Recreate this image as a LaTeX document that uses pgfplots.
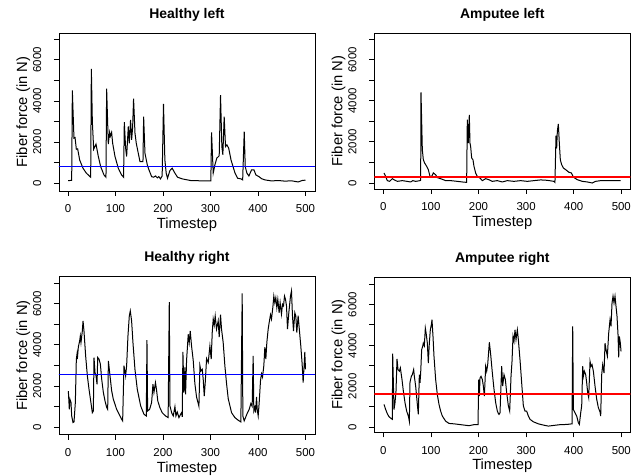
\documentclass[border=0pt]{standalone}
\usepackage{fontspec}
\setmainfont{Liberation Sans}
\usepackage{pgfplots}
\pgfplotsset{compat=1.18}
\definecolor{meanblue}{RGB}{0,0,255}
\pgfplotsset{
  every axis title/.style={at={(axis description cs:0.5,1)}, anchor=base, yshift=14.5bp, font=\bfseries\fontsize{14}{16}\selectfont, inner sep=0pt, outer sep=0pt},
  every axis x label/.style={at={(axis description cs:0.5,0)}, anchor=base, yshift=-37.5bp, font=\fontsize{14.8}{17}\selectfont, inner sep=0pt, outer sep=0pt},
  every axis y label/.style={at={(axis description cs:-0.125,0.5)}, rotate=90, anchor=base, font=\fontsize{14.8}{17}\selectfont, inner sep=0pt, outer sep=0pt},
  rplot/.style={
    scale only axis,
    width=256bp,
    xmin=-19, xmax=520,
    axis line style={line width=0.8bp, black},
    tick align=outside,
    xtick pos=bottom, ytick pos=left,
    major tick length=5bp,
    tick style={line width=0.8bp, black},
    xtick={0,100,200,300,400,500},
    xticklabels={0,100,200,300,400,500},
    ytick={0,1000,2000,3000,4000,5000,6000,7000},
    yticklabels={0,,2000,,4000,,6000,},
    ticklabel style={font=\fontsize{11.5}{12}\selectfont, inner sep=0pt, outer sep=0pt},
    xticklabel style={anchor=base, yshift=-17bp},
    yticklabel style={rotate=90, anchor=base, yshift=13bp},
    xlabel={Timestep},
    ylabel={Fiber force (in N)},
    clip=true,
  },
  dataline/.style={black, line width=1bp, no marks},
  blueline/.style={draw=meanblue, line width=1bp, no marks},
  redline/.style={draw=red, line width=2bp, no marks},
}
\begin{document}
\begin{tikzpicture}
\path[use as bounding box] (0,0) rectangle (644bp,476bp);

% Healthy left
\begin{axis}[rplot, at={(59bp,285bp)}, height=157.7bp, ymin=-380, ymax=7290, title={Healthy left}]
\addplot[dataline] coordinates {
(0,130) (7.7,131) (9.1,4510) (12.5,2190) (14.8,2220) (17.5,1650) (20.3,1670) (24.5,1130) (31.5,730) (38.5,490) (47.7,290)
(49.1,5560) (51.2,3000) (54,1650) (58.9,1900) (63.8,1300) (68.7,810) (75.7,400) (79.9,290)
(81.3,4600) (84.8,1900) (87.6,2470) (89,2280) (91.8,2470) (94,1940) (98.9,1300) (105.8,730) (112.9,400) (117,290)
(118.5,2970) (121.3,1700) (123.4,1300) (126.9,2760) (129,1940) (131.7,3080) (133.9,2110) (136,2700) (138,4110) (141,2430) (143.7,1940) (149.3,1300) (151.5,1050) (157.8,1050)
(159.2,3240) (162,1460) (166.9,890) (170.4,650) (176,320) (180,290) (184.3,350) (188,260) (191.2,320) (194.6,210) (198.2,350)
(201,3860) (203.9,1130) (206.7,490) (209.5,240) (214.4,610) (219.3,730) (225,490) (230.6,290) (240.4,210) (258,130) (280,115) (300.7,115)
(302.2,2465) (305.7,490) (309.2,890) (313.3,1220) (318.3,1330) (321.1,4280) (323.9,1780) (326,1380) (328.8,3240) (331.6,1780) (334.5,1870) (338.3,1700) (343.2,1130) (347.4,810) (351.6,490) (357.2,240) (364.2,210) (367.7,160)
(371,2510) (373.1,810) (376.6,490) (380.8,350) (386.5,650) (391.4,650) (395.6,400) (401.9,320) (407.5,220) (414.5,160) (428.5,110) (442.5,130) (456.6,100) (470.6,115) (484.6,60) (493,130) (500,150)
};
\addplot[blueline] coordinates {(-30,835) (530,835)};
\end{axis}

% Amputee left
\begin{axis}[rplot, at={(374.3bp,287bp)}, height=155.7bp, xmin=-18.9, xmax=518.9, ymin=-292, ymax=7285, title={Amputee left}]
\addplot[dataline] coordinates {
(1.4,487) (4.9,325) (8.4,115) (13.4,80) (18.9,210) (22.5,160) (29.5,80) (40,115) (50,80) (57.5,50) (62,115) (68,80) (77.3,115) (78.5,130)
(79.2,4410) (82,1620) (84.1,1130) (86.9,970) (91.1,810) (94.6,650) (98.1,320) (101.6,320) (105.1,490) (110,400) (113.5,260) (120.5,210) (131,115) (141.5,115) (155.5,80) (166,50) (175.1,30)
(176.5,3080) (178.6,1940) (180.7,3320) (182.1,1940) (183.5,1780) (185.6,1220) (188.4,1130) (190.5,810) (194,490) (197.5,320) (203.1,240) (208,115) (215,210) (222,160) (229,80) (239.5,115) (250,50) (260.5,115) (274.5,80) (288.5,115) (302.5,80) (316.5,115) (330.5,150) (344.5,130) (358.5,80) (360.6,30)
(362.8,2300) (364.2,1680) (365.6,2510) (367.7,2880) (369.8,1940) (371.9,1130) (374.7,890) (378.2,730) (383.1,650) (390.1,520) (395,490) (399.2,290) (407.6,160) (418.1,80) (428.6,50) (439,0) (446,80) (456.6,115) (470.6,115) (484.6,115) (498.6,115)
};
\addplot[redline] coordinates {(-30,276) (530,276)};
\end{axis}

% Healthy right
\begin{axis}[rplot, at={(59bp,41.3bp)}, height=158.4bp, ymin=-373, ymax=7331, title={Healthy right}]
\addplot[dataline] coordinates {
(0.7,1750) (2.7,860) (4.1,1350) (6.3,1190) (7.7,540) (10.5,220) (12.6,250) (15.4,1190) (17.5,3300) (18.9,3540) (19.6,3300) (21.7,3890) (24.5,4190) (25.9,4430) (27.3,4110) (30.1,4670) (31.6,5160) (33.6,4670) (37.1,3460) (40.7,2490) (44.2,1840) (47.7,1270) (51.2,700) (53.3,780)
(54.7,3380) (56.8,2650) (59,2490) (61.1,2080) (62.5,3380) (65.3,3300) (68.1,3060) (70.9,2330) (74.4,1680) (77.9,1270) (81.4,950) (83.5,860)
(85,3220) (88.4,2490) (91.9,1760) (95.4,1350) (102.4,860) (109.4,540) (112.9,380) (115,300)
(117.8,2980) (119.9,2700) (121.3,2490) (123.4,2980) (126.2,4430) (129,5400) (131.1,5650) (133.9,5160) (136.7,4110) (140.9,2810) (145.8,1840) (152.9,1030) (159.9,620) (164.8,540)
(166.2,4230) (167.6,780) (171.8,860) (176,1190) (178.8,2080) (180.9,1680) (184.1,2160) (186.2,1840) (189,1270) (193.3,950) (198.2,700) (205.2,540) (210.8,460)
(213.2,6080) (214.6,1030) (218.1,700) (221.6,540) (225.1,990) (227.2,540) (230,730) (233.5,460) (237,620) (239.1,700) (240.5,500)
(241.9,3650) (244,1680) (246.1,2900) (247.5,1590) (249.6,3240) (253.1,4510) (255.2,4110) (257.3,4670) (260.1,3940) (263.6,3240) (267.1,2110) (270.6,1460) (275.6,1010)
(277.7,2990) (279.8,2730) (282.6,2810) (284.7,2300) (286.8,1500) (288.9,2160) (291.7,3330) (295.2,3140) (298.7,3940) (301.5,3300) (303.6,4590) (305.7,5250) (307.8,4960) (309.9,5400) (312.7,4760) (316.2,5160) (318.3,4370) (321.1,5460) (323.2,4760) (326.7,4110) (330.2,2990) (333.8,2110) (337.3,1380) (344.3,700) (351.3,460) (358.3,330) (363.9,250)
(366.7,6500) (368.1,540) (370.9,300) (373.7,460) (377.9,700) (381.4,860) (384.9,1140) (387.7,1010) (389.8,3460) (391.2,780) (393.4,950) (394.8,700) (396.9,1460) (398.3,860) (400.4,540)
(402.5,1190) (405.3,2270) (407.4,2590) (409.5,2430) (412.3,2990) (414.4,3890) (416.5,3300) (418.6,4110) (421.4,4760) (423.5,5080) (426.3,5460) (428.4,5250) (431.2,5810) (433.3,6370) (435.4,6050) (437.5,6290) (439.6,5810) (441.7,6210) (444.5,5560) (446.6,6050) (449.4,5490) (451.6,5970) (453.7,5890) (455.8,6370) (457.9,6210) (460,5890) (462.1,4760) (464.9,5560) (468.4,6370) (470.5,6620) (472.6,5400) (474.7,4670) (477.5,5560) (479.6,5400) (481.7,4590) (484.5,5420) (487.3,4670) (490.1,3940) (492.9,3080) (495,2160) (497.1,2990) (498.5,3650) (500,2810)
};
\addplot[blueline] coordinates {(-30,2570) (530,2570)};
\end{axis}

% Amputee right
\begin{axis}[rplot, at={(374.3bp,43.7bp)}, height=155.3bp, xmin=-18.9, xmax=518.9, ymin=-243, ymax=7337, title={Amputee right}]
\addplot[dataline] coordinates {
(1.5,1120) (5,870) (8.5,660) (12,520) (16.9,420) (19,390)
(19.7,3600) (22.5,870) (24.6,1200) (26.7,1770) (28.8,3340) (30.9,2820) (33.7,2740) (35.8,2900) (39.3,2330) (42.1,1770) (45.6,1200) (49.1,790) (52.6,550) (54.7,300)
(56.1,2200) (58.9,2490) (61,2570) (63.8,2820) (65.2,2490) (68,2010) (71.5,1120) (73.6,630)
(75.7,2570) (77.1,2170) (78.5,2650) (80.6,3790) (82.7,3950) (84.1,4110) (86.2,3980) (88.3,4840) (90.4,4520) (92.5,4110) (94.6,3140) (96.7,4110) (98.8,4760) (100.9,5000) (102.3,5250) (104.4,4440) (106.5,3460) (110,2330) (113.5,1600) (117,1120) (120.5,790) (124,550) (131,300) (138,190) (148.5,170) (159,140) (169.5,110) (180,80) (190.5,130) (199,130)
(200.4,2330) (201.8,1520) (203.2,2410) (205.3,2490) (208.1,2330) (210.2,2010) (212.3,1520) (215.1,2980) (217.2,2740) (219.3,3060) (222.8,4150) (225.6,3550) (229.1,2650) (232.6,1850) (236.1,1200) (239.6,790) (241.7,680) (243.1,630) (245.2,710)
(248.7,2980) (250.8,2010) (253.6,2570) (256.4,2330) (259.2,1690) (262.7,1050) (265.5,790)
(268.3,2490) (270.4,3220) (272.5,4440) (274.6,4200) (276.7,4760) (278.8,4280) (281.6,4760) (283.7,4280) (287.2,3300) (290.7,2170) (294.2,1050) (297.7,790) (301.2,790) (304.7,550) (308.2,390) (315.2,270) (325.7,170) (336.2,110) (346.7,60) (357.2,90) (371.3,130) (385.3,140) (396.5,170)
(397.9,4930) (399.3,870) (402.8,710) (406.3,550) (409.8,220) (411.9,140) (414.7,710) (416.8,1050)
(418.9,2980) (420.3,2490) (422.4,2740) (425.2,2570) (427.3,2170) (429.4,1690) (431.5,1450) (434.3,3220) (436.4,2980) (438.5,3060) (441.3,2740) (444.8,2010) (448.3,1370) (451.8,960) (455.3,750) (456.7,550)
(458.8,2570) (460.9,3060) (463.7,2650) (465.8,4110) (467.9,3790) (470.7,3470) (473.5,4600) (476.3,5250) (478.4,4930) (480.5,6070) (482.6,6400) (484.7,6070) (486.8,6400) (488.9,5900) (491,5410) (493.1,4520) (494.5,3410) (495.9,4440) (498,4110) (499.4,3710)
};
\addplot[redline] coordinates {(-30,1650) (530,1650)};
\end{axis}
\end{tikzpicture}
\end{document}
